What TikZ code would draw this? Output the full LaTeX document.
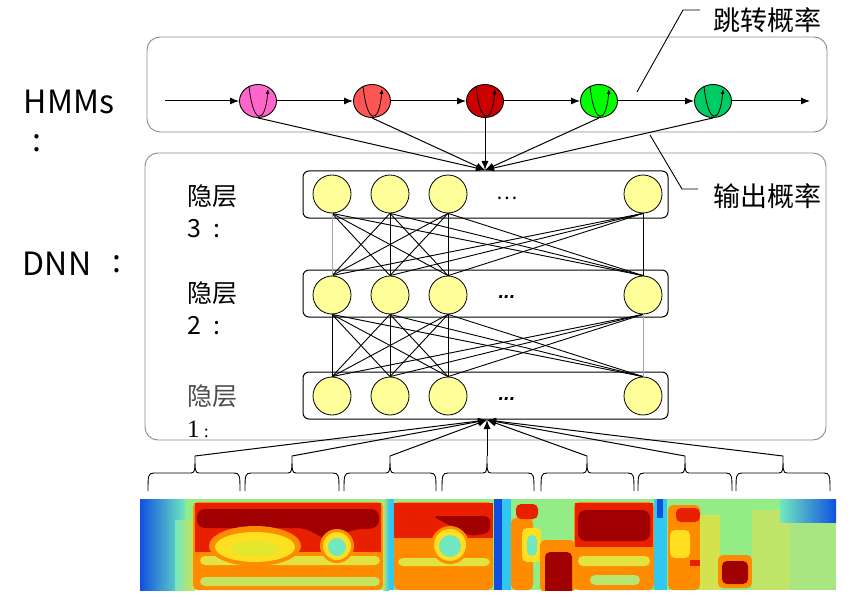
\documentclass[tikz,border=0pt]{standalone}
\usepackage{fontspec}
\setmainfont{Noto Sans CJK SC}
\newfontfamily\lsans{Liberation Sans}
\newfontfamily\lserif{Liberation Serif}
\usetikzlibrary{arrows.meta,shapes.geometric,calc}
\definecolor{hpink}{HTML}{FF66CC}
\definecolor{hsalmon}{HTML}{FF5555}
\definecolor{hdred}{HTML}{CC0000}
\definecolor{hgreen}{HTML}{00FF00}
\definecolor{hteal}{HTML}{00CC66}
\definecolor{neury}{HTML}{FFFF99}
\definecolor{boxgray}{HTML}{8A8A8A}
\definecolor{jdred}{HTML}{A00000}
\definecolor{jred}{HTML}{E82000}
\definecolor{jorange}{HTML}{FF8C00}
\definecolor{jyellow}{HTML}{FFE020}
\definecolor{jlime}{HTML}{C0F040}
\definecolor{jcyan}{HTML}{70E8C0}
\definecolor{jsky}{HTML}{30C8F0}
\definecolor{jblue}{HTML}{1050E0}
\begin{document}
\begin{tikzpicture}[x=1pt,y=-1pt,
  bigbox/.style={draw=boxgray, line width=0.9pt, rounded corners=13pt},
  layerbox/.style={draw=black, line width=1pt, rounded corners=6pt},
  neuron/.style={circle, draw=black, line width=0.8pt, fill=neury, minimum size=38pt, inner sep=0pt},
  hstate/.style={ellipse, draw=black, line width=0.9pt, minimum width=37pt, minimum height=33pt, inner sep=0pt},
  arr/.style={-{Latex[length=9pt,width=7pt]}, line width=1pt},
  looparr/.style={-{Latex[length=5pt,width=4pt]}, line width=0.8pt},
  conn/.style={line width=0.9pt},
  faint/.style={line width=0.5pt, draw=gray!70},
  biglbl/.style={font=\fontsize{32}{34}\selectfont},
  lyrlbl/.style={font=\fontsize{25}{27}\selectfont, anchor=west, inner sep=0pt},
  toplbl/.style={font=\fontsize{27}{29}\selectfont},
  dotlbl/.style={font=\lsans\bfseries\itshape\fontsize{20}{22}\selectfont},
  sp/.style={rounded corners=5pt}
]
\useasboundingbox (0,0) rectangle (865,599);

% ---------- outer boxes ----------
\draw[bigbox] (147,37) rectangle (827,132);
\draw[bigbox] (145,153) rectangle (826,440);

% ---------- HMM chain ----------
\coordinate (hstart) at (165,101);
\coordinate (hend) at (810,101);
\node[hstate, fill=hpink]   (h1) at (258,101) {};
\node[hstate, fill=hsalmon] (h2) at (372,101) {};
\node[hstate, fill=hdred]   (h3) at (485,101) {};
\node[hstate, fill=hgreen]  (h4) at (599,101) {};
\node[hstate, fill=hteal]   (h5) at (713,101) {};
\draw[arr] (hstart) -- (h1);
\draw[arr] (h1) -- (h2);
\draw[arr] (h2) -- (h3);
\draw[arr] (h3) -- (h4);
\draw[arr] (h4) -- (h5);
\draw[arr] (h5) -- (hend);
\foreach \n in {h1,h2,h3,h4,h5}{
  \draw[looparr] ($(\n)+(-9,-15)$) .. controls ($(\n)+(-5,24)$) and ($(\n)+(7,24)$) .. ($(\n)+(10,-12)$);
}

% ---------- DNN layers ----------
\draw[layerbox] (303,171) rectangle (668,218);
\draw[layerbox] (303,270) rectangle (668,317);
\draw[layerbox] (303,372) rectangle (668,419);

\foreach \l/\y in {3/194,2/295,1/396}{
  \node[neuron] (n\l1) at (332,\y) {};
  \node[neuron] (n\l2) at (390,\y) {};
  \node[neuron] (n\l3) at (448,\y) {};
  \node[neuron] (n\l4) at (643,\y) {};
}
\node[font=\fontsize{20}{22}\selectfont] (d3) at (507,198) {…};
\node[dotlbl] (d2) at (507,297) {...};
\node[dotlbl] (d1) at (507,399) {...};

% connections between layers
\foreach \i in {1,...,4}{
  \foreach \j in {1,...,4}{
    \ifnum\i=\j\relax\else
      \draw[conn] (n3\i.south) -- (n2\j.north);
      \draw[conn] (n2\i.south) -- (n1\j.north);
    \fi
  }
}
\draw[faint] (n31.south) -- (n21.north);
\draw[conn] (n32.south) -- (n22.north);
\draw[conn] (n33.south) -- (n23.north);
\draw[conn] (n34.south) -- (n24.north);
\draw[conn] (n21.south) -- (n11.north);
\draw[conn] (n22.south) -- (n12.north);
\draw[conn] (n23.south) -- (n13.north);
\draw[faint] (n24.south) -- (n14.north);

% ---------- HMM -> DNN arrows ----------
\coordinate (dtop) at (485,170);
\foreach \n in {h1,h2,h3,h4,h5}{
  \draw[arr] (\n.south) -- (dtop);
}

% ---------- braces and input arrows ----------
\coordinate (dbot) at (487,420);
\foreach \a/\m/\b/\i in {148/195/240/1,245/292/339/2,344/390/436/3,442/487/534/4,541/587/634/5,638/685/732/6,736/783/830/7}{
  \draw[conn] (\a,491) .. controls (\a,476) and (\a,473) .. ({\a+6},473) -- ({\m-4},473)
     .. controls (\m,473) and (\m,470) .. (\m,456)
     .. controls (\m,470) and (\m,473) .. ({\m+4},473) -- ({\b-6},473)
     .. controls (\b,473) and (\b,476) .. (\b,491);
  \coordinate (bt\i) at (\m,456);
}
\foreach \i in {1,...,7}{
  \draw[arr] (bt\i) -- (dbot);
}

% ---------- spectrogram ----------
\begin{scope}
\clip (140,499) rectangle (836,590);
\fill[jlime!45!jcyan] (140,499) rectangle (836,590);
\shade[left color=jblue, right color=jcyan] (140,499) rectangle (185,590);
\shade[left color=jcyan, right color=jyellow!70!jcyan] (175,520) rectangle (195,590);
% block 1
\fill[jorange, sp] (193,502) rectangle (383,590);
\fill[jyellow!80!jcyan, sp] (200,556) rectangle (380,565);
\fill[jyellow!60!jcyan, sp] (200,577) rectangle (380,586);
\fill[jred] (195,503) rectangle (381,552);
\fill[jdred, rounded corners=8pt] (197,509) -- (379,509) -- (379,528) -- (350,530) -- (330,542) -- (305,528) -- (197,528) -- cycle;
\fill[jorange] (255,546) ellipse (46 and 20);
\fill[jyellow] (255,547) ellipse (40 and 15);
\fill[jyellow!55!jlime] (255,549) ellipse (25 and 8);
\fill[jorange] (337,546) circle (17);
\fill[jyellow] (337,546) circle (14);
\fill[jcyan] (337,547) circle (9);
% gap 1
\shade[left color=jyellow!60!jcyan, right color=jsky] (383,499) rectangle (389,590);
\fill[jsky] (389,499) rectangle (394,590);
% block 2
\fill[jorange, sp] (394,502) rectangle (493,590);
\fill[jyellow!80!jcyan, sp] (398,558) rectangle (490,566);
\fill[jred] (394,503) rectangle (493,538);
\fill[jdred, rounded corners=6pt] (432,516) -- (490,516) -- (490,533) -- (470,536) -- cycle;
\fill[jorange] (450,545) circle (19);
\fill[jyellow] (450,545) circle (16);
\fill[jcyan] (450,546) circle (11);
% gap 2
\fill[jblue] (494,499) rectangle (502,590);
\fill[jsky] (502,499) rectangle (511,590);
% block 3
\fill[jorange, sp] (511,518) rectangle (533,590);
\fill[jred, sp] (516,504) rectangle (538,519);
\fill[jyellow, sp] (522,528) rectangle (541,562);
\fill[jcyan, sp] (527,535) rectangle (537,556);
\fill[jorange, sp] (540,540) rectangle (575,592);
\fill[jdred, sp] (545,552) rectangle (572,595);
% block 4
\fill[jorange, sp] (574,502) rectangle (654,590);
\fill[jred] (575,503) rectangle (653,547);
\fill[jdred, rounded corners=8pt] (578,510) rectangle (650,541);
\fill[jyellow!80!jcyan, sp] (578,556) rectangle (650,566);
\fill[jyellow!50!jcyan, sp] (590,575) rectangle (640,585);
% gap 3
\fill[jsky] (654,499) rectangle (667,590);
\fill[jblue] (657,499) rectangle (663,518);
% block 5
\fill[jorange, sp] (668,505) rectangle (700,590);
\fill[jred, sp] (676,508) rectangle (700,522);
\fill[jyellow, sp] (670,530) rectangle (690,558);
\fill[jyellow!70!jcyan] (700,515) rectangle (720,590);
\fill[jred] (690,560) rectangle (700,566);
% block 6
\fill[jorange, sp] (718,555) rectangle (752,588);
\fill[jdred, sp] (722,561) rectangle (748,584);
% right part
\fill[jyellow!55!jcyan] (752,510) rectangle (790,590);
\fill[jyellow!40!jcyan] (790,520) rectangle (836,590);
\shade[left color=jcyan, right color=jblue] (780,499) rectangle (836,522);
\end{scope}

% ---------- labels ----------
\node[biglbl] (lhmm) at (69,102) {HMMs};
\node[biglbl] (lc1) at (37,143) {:};
\node[biglbl] (ldnn) at (57,264) {DNN};
\node[biglbl] (lc2) at (117,264) {:};

\node[lyrlbl] (l3a) at (187,196) {隐层};
\node[lyrlbl] (l3b) at (187,229) {3\hspace{12pt}:};
\node[lyrlbl] (l2a) at (187,293) {隐层};
\node[lyrlbl] (l2b) at (187,326) {2\hspace{12pt}:};
\node[lyrlbl, text=black!70] (l1a) at (187,396) {隐层};
\node[lyrlbl, font=\lserif\fontsize{25}{27}\selectfont] (l1b) at (187,429) {1\,{\fontsize{18}{20}\selectfont:}};

% callouts
\coordinate (c1a) at (637,92);
\coordinate (c1b) at (683,10);
\coordinate (c1c) at (700,10);
\draw[conn] (c1a) -- (c1b) -- (c1c);
\node[toplbl] (t1) at (767,20) {跳转概率};
\coordinate (c2a) at (650,135);
\coordinate (c2b) at (682,189);
\coordinate (c2c) at (698,189);
\draw[conn] (c2a) -- (c2b) -- (c2c);
\node[toplbl] (t2) at (767,196) {输出概率};
\end{tikzpicture}
\end{document}
